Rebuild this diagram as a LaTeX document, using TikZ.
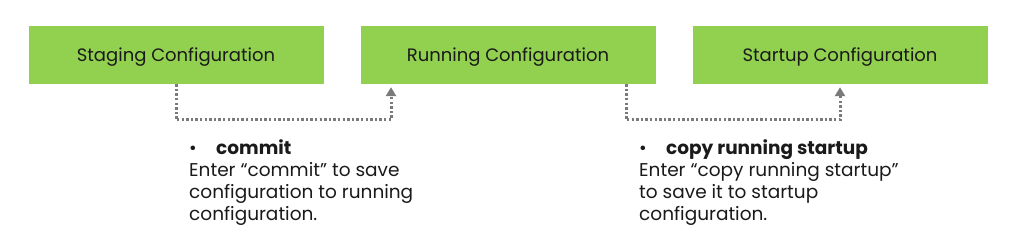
\documentclass[tikz,border=0pt]{standalone}
\usepackage{fontspec}
\setmainfont{Poppins}
\usetikzlibrary{arrows.meta}
\definecolor{boxgreen}{HTML}{92D050}
\definecolor{txt}{HTML}{1A1A1A}
\definecolor{conn}{HTML}{7A7A7A}
\begin{document}
\begin{tikzpicture}[x=1pt,y=1pt,
  cfgbox/.style={fill=boxgreen,draw=none,minimum width=295pt,minimum height=58pt,inner sep=0pt,text height=14pt,text depth=0pt,font=\fontsize{18}{22}\selectfont,text=txt},
  dotline/.style={draw=conn,line width=3pt,dash pattern=on 2.4pt off 2.2pt,-{Triangle[length=9pt,width=10pt]}},
  note/.style={anchor=north west,align=left,inner sep=0pt,font=\fontsize{18.5}{22}\selectfont,text=txt}]
\useasboundingbox (0,0) rectangle (1033,-251);
\fill[white] (0,0) rectangle (1033,-251);
\node[cfgbox] (stag) at (176,-55) {Staging Configuration};
\node[cfgbox] (run) at (508,-55) {Running Configuration};
\node[cfgbox] (start) at (840,-55) {Startup Configuration};
\coordinate (c1) at (176,-120);
\coordinate (c2) at (391,-120);
\coordinate (c3) at (626,-120);
\coordinate (c4) at (840,-120);
\draw[dotline] (stag.south -| c1) -- (c1) -- (c2) -- ([yshift=-3pt]run.south -| c2);
\draw[dotline] (run.south -| c3) -- (c3) -- (c4) -- ([yshift=-3pt]start.south -| c4);
\node[note] (n1) at (189,-139) {\makebox[27pt][l]{\textbullet}\textbf{commit}\\Enter “commit” to save\\configuration to running\\configuration.};
\node[note] (n2) at (639,-139) {\makebox[27pt][l]{\textbullet}\textbf{copy running startup}\\Enter “copy running startup”\\to save it to startup\\configuration.};
\end{tikzpicture}
\end{document}
